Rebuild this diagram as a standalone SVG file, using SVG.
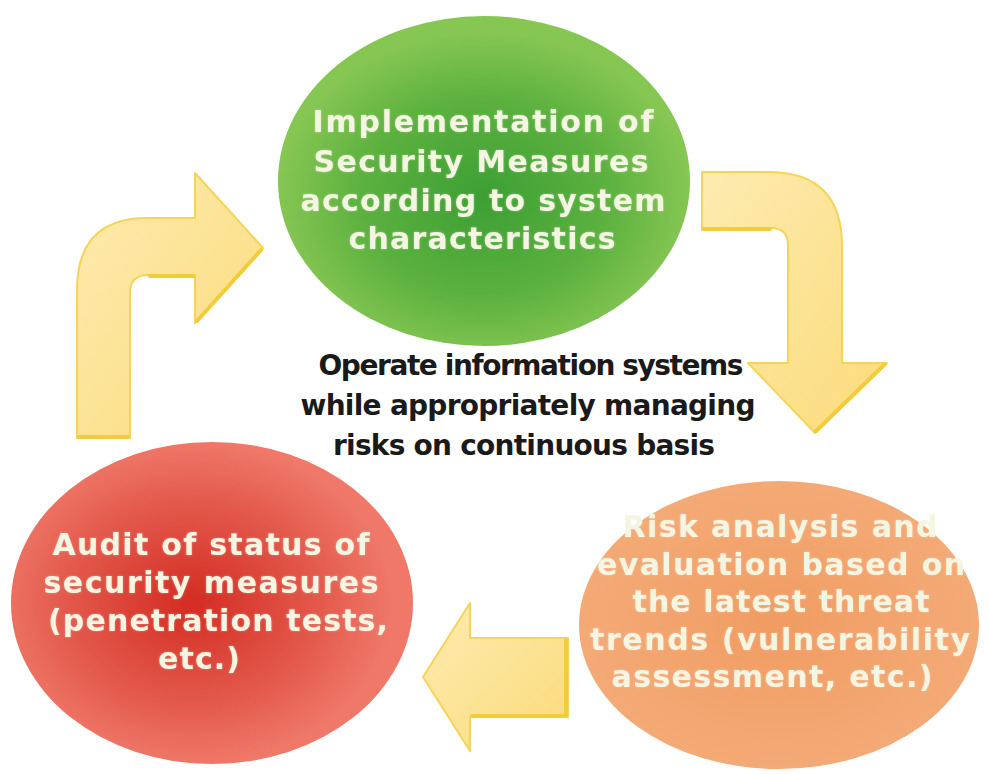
<svg xmlns="http://www.w3.org/2000/svg" width="988" height="774" viewBox="0 0 988 774">
<defs>
<radialGradient id="gGreen" cx="0.5" cy="0.55" r="0.5">
<stop offset="0" stop-color="#3c9f33"/>
<stop offset="0.6" stop-color="#5cb13f"/>
<stop offset="1" stop-color="#86c653"/>
</radialGradient>
<radialGradient id="gRed" cx="0.45" cy="0.5" r="0.5">
<stop offset="0" stop-color="#d42c22"/>
<stop offset="0.6" stop-color="#e2574a"/>
<stop offset="1" stop-color="#ef7868"/>
</radialGradient>
<radialGradient id="gOrange" cx="0.5" cy="0.5" r="0.5">
<stop offset="0" stop-color="#f09c62"/>
<stop offset="1" stop-color="#f4aa76"/>
</radialGradient>
<linearGradient id="gArrow" x1="0" y1="0" x2="1" y2="1">
<stop offset="0" stop-color="#fdebb0"/>
<stop offset="1" stop-color="#fbdb7a"/>
</linearGradient>
<filter id="glow" x="-5%" y="-20%" width="110%" height="140%">
<feGaussianBlur in="SourceAlpha" stdDeviation="1.2" result="b"/>
<feFlood flood-color="#ffffff" flood-opacity="0.35"/>
<feComposite in2="b" operator="in" result="g"/>
<feMerge><feMergeNode in="g"/><feMergeNode in="SourceGraphic"/></feMerge>
</filter>
</defs>
<style>
.arrow{fill:url(#gArrow);stroke:#f6d458;stroke-width:2;stroke-linejoin:round}
.bevel{fill:none;stroke:#f3cc3c;stroke-width:4;stroke-linecap:round}
.node-text{font-family:"DejaVu Sans","Liberation Sans",sans-serif;font-weight:bold;font-size:30px;fill:#f4f6e2;text-anchor:middle}
.center-text{font-family:"DejaVu Sans","Liberation Sans",sans-serif;font-weight:bold;font-size:28px;fill:#1a1a1a;text-anchor:middle}
</style>
<rect width="988" height="774" fill="#ffffff"/>
<g id="connectors">
<path class="arrow" d="M 77 438 L 77 290 Q 77 218 147 218 L 195 218 L 195 173 L 263 248 L 195 323 L 195 275 L 148 275 Q 130 275 130 293 L 130 438 Z"/>
<path class="bevel" d="M 79 437 L 128 437 M 150 276 L 194 276 M 197 321 L 261 250"/>
<path class="arrow" d="M 702 172 L 768 172 Q 842 172 842 246 L 842 363 L 887 363 L 815 433 L 748 363 L 788 363 L 788 245 Q 788 228 771 228 L 702 228 Z"/>
<path class="bevel" d="M 703 229 L 770 229 M 816 431 L 885 364"/>
<path class="arrow" d="M 568 638 L 470 638 L 470 603 L 423 677 L 470 751 L 470 717 L 568 717 Z"/>
<path class="bevel" d="M 472 716 L 566 716 M 566 640 L 566 715"/>
</g>
<g id="node-implementation">
<ellipse cx="484" cy="181" rx="206" ry="165" fill="url(#gGreen)"/>
<g filter="url(#glow)">
<text class="node-text" x="483" y="132" textLength="341" lengthAdjust="spacing">Implementation of</text>
<text class="node-text" x="481" y="172" textLength="335" lengthAdjust="spacing">Security Measures</text>
<text class="node-text" x="483" y="211" textLength="365" lengthAdjust="spacing">according to system</text>
<text class="node-text" x="482" y="249" textLength="267" lengthAdjust="spacing">characteristics</text>
</g>
</g>
<g id="center-label">
<text class="center-text" x="531" y="375" textLength="425" lengthAdjust="spacing">Operate information systems</text>
<text class="center-text" x="528" y="415" textLength="455" lengthAdjust="spacing">while appropriately managing</text>
<text class="center-text" x="524" y="455" textLength="382" lengthAdjust="spacing">risks on continuous basis</text>
</g>
<g id="node-audit">
<ellipse cx="212" cy="603" rx="201" ry="161" fill="url(#gRed)"/>
<g filter="url(#glow)">
<text class="node-text" x="211" y="555" textLength="317" lengthAdjust="spacing">Audit of status of</text>
<text class="node-text" x="211" y="593" textLength="335" lengthAdjust="spacing">security measures</text>
<text class="node-text" x="218" y="631" textLength="340" lengthAdjust="spacing">(penetration tests,</text>
<text class="node-text" x="199" y="669" textLength="82" lengthAdjust="spacing">etc.)</text>
</g>
</g>
<g id="node-risk">
<ellipse cx="779" cy="625" rx="200" ry="144" fill="url(#gOrange)"/>
<g filter="url(#glow)">
<text class="node-text" x="780" y="537" textLength="315" lengthAdjust="spacing">Risk analysis and</text>
<text class="node-text" x="781" y="575" textLength="368" lengthAdjust="spacing">evaluation based on</text>
<text class="node-text" x="781" y="612" textLength="297" lengthAdjust="spacing">the latest threat</text>
<text class="node-text" x="780" y="650" textLength="380" lengthAdjust="spacing">trends (vulnerability</text>
<text class="node-text" x="772" y="687" textLength="321" lengthAdjust="spacing">assessment, etc.)</text>
</g>
</g>
</svg>
